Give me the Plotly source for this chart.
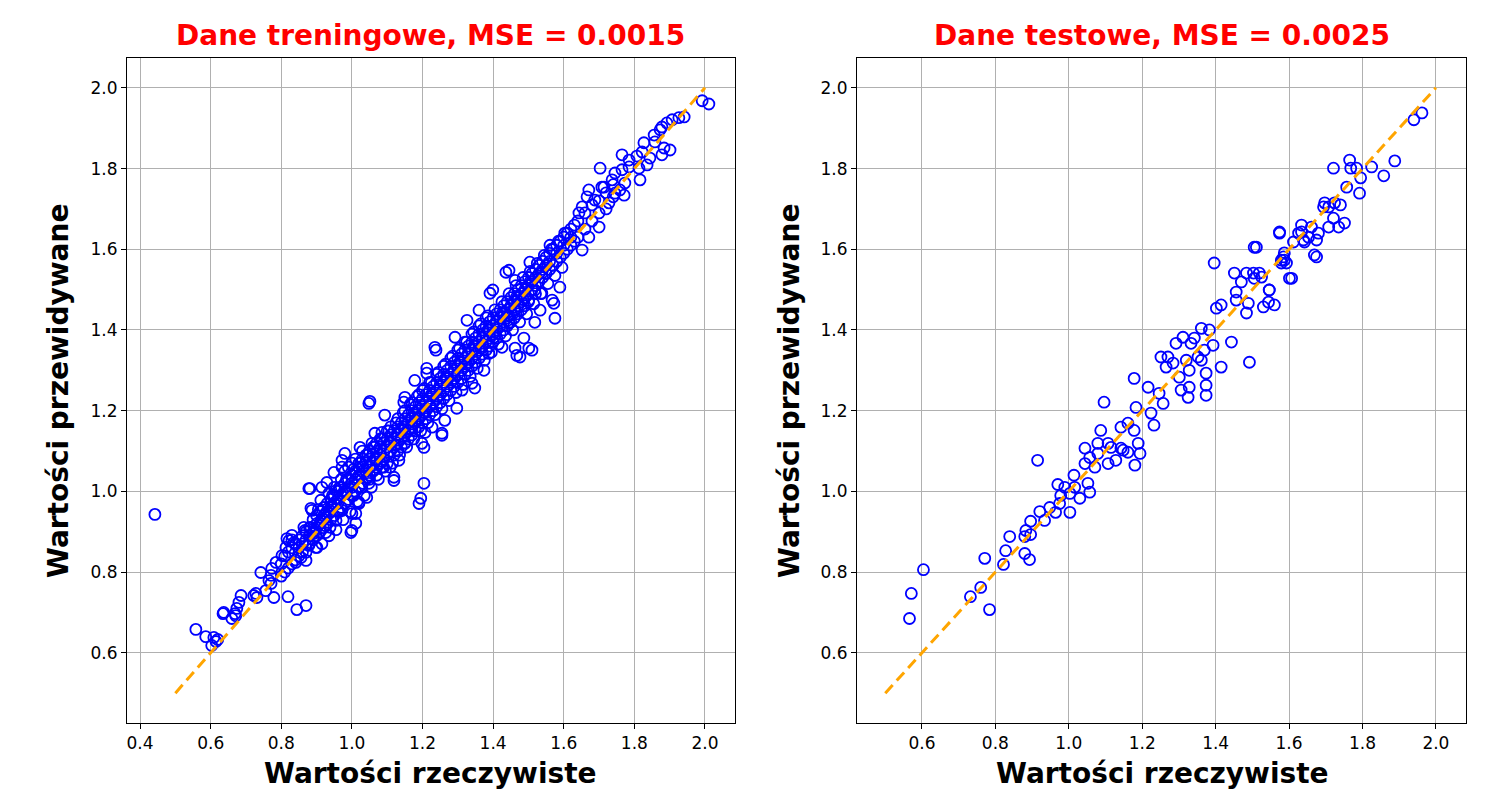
import plotly.graph_objects as go

# ---------------- data ----------------
tick_vals_left_x = [0.4, 0.6, 0.8, 1.0, 1.2, 1.4, 1.6, 1.8, 2.0]
tick_vals_right_x = [0.6, 0.8, 1.0, 1.2, 1.4, 1.6, 1.8, 2.0]
tick_vals_y = [0.6, 0.8, 1.0, 1.2, 1.4, 1.6, 1.8, 2.0]
ideal_line = [0.5, 2.0]

train_title = "Dane treningowe, MSE = 0.0015"
test_title = "Dane testowe, MSE = 0.0025"
x_label = "Wartości rzeczywiste"
y_label = "Wartości przewidywane"

# training set: scattered / edge points
train_actual_edges = [
    0.442, 0.558, 0.586, 0.609, 0.615, 0.603, 0.620, 0.635, 0.637, 0.660,
    0.669, 0.674, 0.680, 0.686, 0.671, 0.722, 0.731, 0.728, 0.742, 0.756,
    0.765, 0.771, 0.779, 0.773, 0.785, 0.771, 0.819, 0.844, 0.870, 0.802,
    0.813, 0.816, 0.830, 0.822, 0.836, 0.841, 0.856, 0.870, 0.870, 0.878,
    0.892, 0.898, 0.884, 0.864, 0.884, 0.878, 0.912, 0.926, 0.935, 0.943,
    0.955, 0.972, 0.997, 1.011, 1.011, 1.020, 0.935, 0.912, 0.955, 0.983,
    1.028, 1.042, 1.119, 1.190, 1.195, 1.204, 1.051, 1.000, 1.048, 1.147,
    1.093, 1.204, 0.881, 0.949, 0.980, 0.972, 0.972, 1.023, 1.057, 1.065,
    1.085, 1.119, 1.108, 1.000, 1.020, 0.901, 0.929, 0.915, 0.887, 0.943,
    0.938, 0.867, 1.048, 1.085, 1.133, 1.150, 1.170, 1.178, 1.235, 1.255,
    1.297, 1.348, 1.374, 1.476, 1.510, 1.487, 1.462, 1.425, 1.518, 1.575,
    1.572, 1.533, 1.391, 1.360, 1.326, 1.292, 1.212, 1.178, 1.150, 1.170,
    1.198, 1.227, 1.263, 1.312, 1.340, 1.388, 1.402, 1.445, 1.462, 1.501,
    1.538, 1.445, 1.462, 1.504, 1.567, 1.589, 1.561, 1.603, 1.652, 1.671,
    1.652, 1.666, 1.708, 1.771, 1.700, 1.643, 1.538, 1.518, 2.011, 1.992,
    1.941, 1.926, 1.907, 1.892, 1.878, 1.873, 1.856, 1.858, 1.884, 1.901,
    1.878, 1.827, 1.822, 1.844, 1.836, 1.765, 1.785, 1.703, 1.745, 1.765,
    1.785, 1.813, 1.816, 1.714, 1.737, 1.773, 1.759, 1.745, 1.671, 1.688,
    1.728, 1.399, 1.436, 1.467, 1.501, 1.207, 1.807, 1.238, 1.212, 1.255,
]
train_pred_edges = [
    0.943, 0.658, 0.640, 0.638, 0.628, 0.618, 0.633, 0.697, 0.700, 0.685,
    0.697, 0.710, 0.725, 0.742, 0.692, 0.742, 0.737, 0.747, 0.799, 0.754,
    0.779, 0.792, 0.737, 0.809, 0.824, 0.772, 0.739, 0.707, 0.717, 0.841,
    0.861, 0.883, 0.891, 0.878, 0.873, 0.824, 0.836, 0.849, 0.829, 0.866,
    0.896, 0.861, 0.911, 0.911, 0.958, 1.007, 0.928, 0.898, 0.945, 0.965,
    0.928, 0.953, 0.898, 0.945, 0.921, 0.970, 0.995, 0.978, 1.002, 0.995,
    1.010, 0.985, 1.027, 0.970, 0.983, 1.020, 1.223, 0.903, 1.218, 1.221,
    1.189, 1.109, 1.007, 1.047, 1.094, 1.077, 1.060, 1.109, 1.119, 1.144,
    1.146, 1.035, 1.060, 0.945, 0.973, 0.861, 1.022, 1.010, 0.953, 0.960,
    0.911, 0.903, 1.020, 1.060, 1.077, 1.119, 1.151, 1.176, 1.357, 1.139,
    1.206, 1.256, 1.300, 1.333, 1.350, 1.380, 1.355, 1.357, 1.419, 1.429,
    1.466, 1.449, 1.491, 1.449, 1.424, 1.382, 1.305, 1.275, 1.233, 1.184,
    1.119, 1.159, 1.176, 1.251, 1.268, 1.342, 1.382, 1.417, 1.449, 1.474,
    1.491, 1.548, 1.523, 1.568, 1.474, 1.506, 1.610, 1.640, 1.598, 1.630,
    1.705, 1.730, 1.754, 1.734, 1.655, 1.690, 1.541, 1.499, 1.960, 1.968,
    1.928, 1.926, 1.921, 1.913, 1.903, 1.896, 1.883, 1.866, 1.851, 1.846,
    1.834, 1.864, 1.841, 1.826, 1.809, 1.834, 1.821, 1.801, 1.789, 1.797,
    1.804, 1.801, 1.772, 1.754, 1.772, 1.764, 1.747, 1.739, 1.747, 1.722,
    1.715, 1.499, 1.543, 1.337, 1.355, 1.146, 1.831, 1.350, 1.293, 1.144,
]

# training set: dense core of the band
train_actual_band = [
    0.80, 0.80, 0.81, 0.81, 0.82, 0.82, 0.83, 0.83, 0.83, 0.84, 0.84, 0.85, 0.85, 0.85,
    0.86, 0.86, 0.86, 0.87, 0.87, 0.88, 0.88, 0.88, 0.89, 0.89, 0.89,
    0.90, 0.90, 0.90, 0.90, 0.91, 0.91, 0.91, 0.92, 0.92, 0.92, 0.92,
    0.93, 0.93, 0.93, 0.94, 0.94, 0.94, 0.94, 0.95, 0.95, 0.95, 0.95,
    0.96, 0.96, 0.96, 0.96, 0.97, 0.97, 0.97, 0.97, 0.98, 0.98, 0.98, 0.98,
    0.99, 0.99, 0.99, 0.99, 1.00, 1.00, 1.00, 1.00, 1.00, 1.01, 1.01, 1.01, 1.01,
    1.02, 1.02, 1.02, 1.02, 1.03, 1.03, 1.03, 1.03, 1.03, 1.04, 1.04, 1.04, 1.04,
    1.05, 1.05, 1.05, 1.05, 1.05, 1.06, 1.06, 1.06, 1.06, 1.07, 1.07, 1.07, 1.07, 1.07,
    1.08, 1.08, 1.08, 1.08, 1.09, 1.09, 1.09, 1.09, 1.10, 1.10, 1.10, 1.10, 1.10,
    1.11, 1.11, 1.11, 1.11, 1.12, 1.12, 1.12, 1.12, 1.13, 1.13, 1.13, 1.13, 1.13,
    1.14, 1.14, 1.14, 1.14, 1.15, 1.15, 1.15, 1.15, 1.15, 1.16, 1.16, 1.16, 1.16,
    1.17, 1.17, 1.17, 1.17, 1.17, 1.18, 1.18, 1.18, 1.18, 1.19, 1.19, 1.19, 1.19, 1.19,
    1.20, 1.20, 1.20, 1.20, 1.20, 1.21, 1.21, 1.21, 1.21, 1.22, 1.22, 1.22, 1.22, 1.22,
    1.23, 1.23, 1.23, 1.23, 1.24, 1.24, 1.24, 1.24, 1.24, 1.25, 1.25, 1.25, 1.25,
    1.26, 1.26, 1.26, 1.26, 1.26, 1.27, 1.27, 1.27, 1.27, 1.28, 1.28, 1.28, 1.28, 1.28,
    1.29, 1.29, 1.29, 1.29, 1.30, 1.30, 1.30, 1.30, 1.30, 1.31, 1.31, 1.31, 1.31,
    1.32, 1.32, 1.32, 1.32, 1.32, 1.33, 1.33, 1.33, 1.33, 1.34, 1.34, 1.34, 1.34, 1.34,
    1.35, 1.35, 1.35, 1.35, 1.36, 1.36, 1.36, 1.36, 1.36, 1.37, 1.37, 1.37, 1.37,
    1.38, 1.38, 1.38, 1.38, 1.38, 1.39, 1.39, 1.39, 1.39, 1.40, 1.40, 1.40, 1.40,
    1.41, 1.41, 1.41, 1.41, 1.42, 1.42, 1.42, 1.42, 1.43, 1.43, 1.43, 1.43,
    1.44, 1.44, 1.44, 1.44, 1.45, 1.45, 1.45, 1.45, 1.46, 1.46, 1.46, 1.46,
    1.47, 1.47, 1.47, 1.47, 1.48, 1.48, 1.48, 1.48, 1.49, 1.49, 1.49, 1.49,
    1.50, 1.50, 1.50, 1.50, 1.51, 1.51, 1.51, 1.52, 1.52, 1.52, 1.52,
    1.53, 1.53, 1.53, 1.54, 1.54, 1.54, 1.55, 1.55, 1.55, 1.56, 1.56, 1.56,
    1.57, 1.57, 1.58, 1.58, 1.58, 1.59, 1.59, 1.60, 1.60, 1.60, 1.61, 1.61,
    1.62, 1.62, 1.62, 1.63, 1.63, 1.64, 1.64, 1.66, 1.66, 1.68, 1.68, 1.70, 1.70, 1.72, 1.72, 1.74, 1.74,
]
train_pred_band = [
    0.82, 0.79, 0.84, 0.80, 0.85, 0.81, 0.86, 0.82, 0.88, 0.87, 0.83, 0.88, 0.86, 0.84,
    0.89, 0.85, 0.87, 0.90, 0.88, 0.91, 0.87, 0.89, 0.93, 0.88, 0.90,
    0.92, 0.89, 0.94, 0.91, 0.95, 0.90, 0.92, 0.94, 0.91, 0.96, 0.93,
    0.97, 0.92, 0.95, 0.95, 0.98, 0.93, 0.96, 0.99, 0.94, 0.97, 1.01,
    0.98, 0.95, 1.00, 0.97, 1.01, 0.96, 0.99, 1.03, 1.00, 0.97, 1.02, 1.05,
    1.03, 0.98, 1.01, 1.06, 1.02, 0.99, 1.04, 1.07, 1.01, 1.05, 1.00, 1.03, 1.08,
    1.04, 1.01, 1.06, 1.07, 1.06, 1.02, 1.08, 1.05, 1.10, 1.07, 1.03, 1.05, 1.09,
    1.08, 1.04, 1.06, 1.10, 1.03, 1.09, 1.05, 1.07, 1.11, 1.10, 1.06, 1.08, 1.12, 1.04,
    1.11, 1.07, 1.09, 1.13, 1.12, 1.08, 1.10, 1.06, 1.13, 1.09, 1.11, 1.15, 1.07,
    1.14, 1.10, 1.12, 1.16, 1.15, 1.11, 1.13, 1.09, 1.16, 1.12, 1.14, 1.18, 1.10,
    1.17, 1.13, 1.15, 1.11, 1.18, 1.14, 1.16, 1.20, 1.12, 1.19, 1.15, 1.17, 1.13,
    1.20, 1.16, 1.18, 1.22, 1.14, 1.21, 1.17, 1.19, 1.15, 1.22, 1.18, 1.20, 1.24, 1.16,
    1.23, 1.19, 1.21, 1.17, 1.25, 1.24, 1.20, 1.22, 1.18, 1.25, 1.21, 1.23, 1.27, 1.19,
    1.26, 1.22, 1.24, 1.20, 1.27, 1.23, 1.25, 1.29, 1.21, 1.28, 1.24, 1.26, 1.22,
    1.29, 1.25, 1.27, 1.31, 1.23, 1.30, 1.26, 1.28, 1.24, 1.31, 1.27, 1.29, 1.33, 1.25,
    1.32, 1.28, 1.30, 1.26, 1.33, 1.29, 1.31, 1.35, 1.27, 1.34, 1.30, 1.32, 1.28,
    1.35, 1.31, 1.33, 1.37, 1.29, 1.36, 1.32, 1.34, 1.30, 1.37, 1.33, 1.35, 1.39, 1.31,
    1.38, 1.34, 1.36, 1.32, 1.39, 1.35, 1.37, 1.41, 1.33, 1.40, 1.36, 1.38, 1.34,
    1.41, 1.37, 1.39, 1.43, 1.35, 1.42, 1.38, 1.40, 1.36, 1.43, 1.39, 1.41, 1.37,
    1.44, 1.40, 1.42, 1.38, 1.45, 1.41, 1.43, 1.39, 1.46, 1.42, 1.44, 1.40,
    1.47, 1.43, 1.45, 1.41, 1.48, 1.44, 1.46, 1.42, 1.49, 1.45, 1.47, 1.43,
    1.50, 1.46, 1.48, 1.44, 1.51, 1.47, 1.49, 1.45, 1.52, 1.48, 1.50, 1.46,
    1.53, 1.49, 1.51, 1.47, 1.54, 1.50, 1.52, 1.55, 1.51, 1.53, 1.49,
    1.56, 1.52, 1.54, 1.57, 1.53, 1.55, 1.58, 1.54, 1.56, 1.59, 1.55, 1.57,
    1.60, 1.56, 1.61, 1.57, 1.59, 1.62, 1.58, 1.63, 1.59, 1.61, 1.64, 1.60,
    1.65, 1.61, 1.63, 1.66, 1.62, 1.67, 1.63, 1.69, 1.65, 1.71, 1.67, 1.72, 1.69, 1.74, 1.70, 1.76, 1.73,
]

# training set: wider fringe of the band
train_actual_fringe = [
    0.905, 0.915, 0.925, 0.935, 0.945, 0.955, 0.965, 0.975, 0.985, 0.995,
    1.005, 1.015, 1.025, 1.035, 1.045, 1.055, 1.065, 1.075, 1.085, 1.095,
    1.105, 1.115, 1.125, 1.135, 1.145, 1.155, 1.165, 1.175, 1.185, 1.195,
    1.205, 1.215, 1.225, 1.235, 1.245, 1.255, 1.265, 1.275, 1.285, 1.295,
    1.305, 1.315, 1.325, 1.335, 1.345, 1.355, 1.365, 1.375, 1.385, 1.395,
    1.405, 1.415, 1.425, 1.435, 1.445, 1.455, 1.465, 1.475, 1.485, 1.495,
    1.505, 1.515, 1.525, 1.535, 1.545, 1.555, 1.565, 1.575, 1.585, 1.595,
    0.925, 0.945, 0.965, 0.985, 1.005, 1.025, 1.045, 1.065, 1.085, 1.105,
    1.125, 1.145, 1.165, 1.185, 1.205, 1.225, 1.245, 1.265, 1.285, 1.305,
    1.325, 1.345, 1.365, 1.385, 1.405, 1.425, 1.445, 1.465, 1.485, 1.505,
]
train_pred_fringe = [
    0.955, 0.870, 0.945, 0.890, 0.990, 0.905, 1.010, 0.930, 1.030, 0.950,
    1.055, 0.975, 1.070, 0.990, 1.090, 1.010, 1.110, 1.030, 1.130, 1.050,
    1.150, 1.070, 1.170, 1.090, 1.195, 1.110, 1.215, 1.130, 1.235, 1.150,
    1.255, 1.170, 1.270, 1.190, 1.295, 1.205, 1.315, 1.225, 1.335, 1.245,
    1.355, 1.265, 1.370, 1.285, 1.395, 1.305, 1.415, 1.325, 1.435, 1.345,
    1.450, 1.365, 1.470, 1.385, 1.490, 1.400, 1.510, 1.420, 1.530, 1.440,
    1.545, 1.465, 1.565, 1.490, 1.585, 1.515, 1.600, 1.535, 1.620, 1.555,
    0.915, 0.960, 0.950, 1.000, 0.990, 1.040, 1.035, 1.080, 1.075, 1.120,
    1.115, 1.160, 1.155, 1.200, 1.195, 1.240, 1.235, 1.280, 1.275, 1.320,
    1.315, 1.360, 1.355, 1.400, 1.395, 1.440, 1.435, 1.480, 1.475, 1.520,
]

# test set
test_actual = [
    0.604, 0.571, 0.566, 0.732, 0.760, 0.784, 0.771, 0.822, 0.828, 0.839,
    0.880, 0.893, 0.880, 0.896, 0.883, 0.896, 0.915, 0.921, 0.934, 0.948,
    0.964, 0.970, 0.978, 0.975, 0.989, 1.003, 1.003, 1.014, 1.016, 1.030,
    1.052, 1.057, 1.044, 1.057, 1.071, 1.044, 1.079, 1.107, 1.115, 1.142,
    1.161, 1.180, 1.194, 1.128, 1.079, 1.096, 1.178, 1.087, 1.107, 1.142,
    1.161, 1.178, 1.189, 1.148, 1.183, 1.216, 1.224, 1.232, 1.246, 1.257,
    1.251, 1.270, 1.265, 1.284, 1.292, 1.311, 1.301, 1.306, 1.325, 1.328,
    1.333, 1.342, 1.361, 1.383, 1.369, 1.352, 1.361, 1.328, 1.320, 1.374,
    1.374, 1.374, 1.393, 1.415, 1.396, 1.402, 1.415, 1.443, 1.451, 1.456,
    1.456, 1.470, 1.484, 1.489, 1.492, 1.503, 1.505, 1.505, 1.519, 1.530,
    1.544, 1.546, 1.560, 1.574, 1.579, 1.593, 1.585, 1.607, 1.639, 1.669,
    1.653, 1.626, 1.484, 1.962, 1.940, 1.888, 1.858, 1.825, 1.795, 1.792,
    1.765, 1.768, 1.784, 1.721, 1.757, 1.740, 1.724, 1.697, 1.708, 1.694,
    1.751, 1.735, 1.708, 1.721, 1.680, 1.675, 1.675, 1.661, 1.634, 1.634,
    1.642, 1.574, 1.612, 1.587, 1.587, 1.579, 1.601, 1.511, 1.546, 1.525,
]
test_pred = [
    0.806, 0.747, 0.685, 0.739, 0.762, 0.707, 0.834, 0.819, 0.853, 0.888,
    0.846, 0.831, 0.888, 0.893, 0.903, 0.926, 1.077, 0.950, 0.928, 0.960,
    0.948, 1.017, 0.990, 0.970, 1.010, 0.948, 0.995, 1.040, 1.010, 0.983,
    1.020, 0.998, 1.069, 1.084, 1.060, 1.107, 1.094, 1.069, 1.109, 1.107,
    1.097, 1.065, 1.094, 1.077, 1.119, 1.221, 1.280, 1.151, 1.119, 1.159,
    1.169, 1.151, 1.119, 1.102, 1.208, 1.258, 1.194, 1.164, 1.243, 1.218,
    1.333, 1.333, 1.308, 1.318, 1.367, 1.382, 1.283, 1.251, 1.233, 1.258,
    1.367, 1.380, 1.404, 1.400, 1.350, 1.333, 1.325, 1.300, 1.325, 1.293,
    1.263, 1.238, 1.362, 1.308, 1.566, 1.454, 1.462, 1.370, 1.541, 1.494,
    1.474, 1.519, 1.541, 1.466, 1.320, 1.541, 1.605, 1.528, 1.541, 1.457,
    1.469, 1.499, 1.462, 1.640, 1.573, 1.566, 1.581, 1.528, 1.623, 1.586,
    1.630, 1.640, 1.442, 1.938, 1.921, 1.819, 1.782, 1.804, 1.777, 1.739,
    1.821, 1.801, 1.801, 1.801, 1.754, 1.710, 1.715, 1.715, 1.705, 1.705,
    1.665, 1.655, 1.655, 1.677, 1.640, 1.623, 1.581, 1.655, 1.660, 1.643,
    1.618, 1.643, 1.618, 1.591, 1.573, 1.566, 1.528, 1.605, 1.499, 1.531,
]

assert len(train_actual_edges) == len(train_pred_edges)
assert len(train_actual_band) == len(train_pred_band)
assert len(train_actual_fringe) == len(train_pred_fringe)
assert len(test_actual) == len(test_pred)

train_actual = train_actual_edges + train_actual_band + train_actual_fringe
train_pred = train_pred_edges + train_pred_band + train_pred_fringe

# ---------------- figure ----------------
W, H = 1494, 793
FONT = "DejaVu Sans"

marker = dict(symbol="circle-open", size=11, color="blue", line=dict(width=1.8, color="blue"))
line_style = dict(color="orange", width=3, dash="11px,6px")

fig = go.Figure()
fig.add_trace(go.Scatter(x=train_actual, y=train_pred, mode="markers", marker=marker,
                         xaxis="x", yaxis="y", showlegend=False))
fig.add_trace(go.Scatter(x=ideal_line, y=ideal_line, mode="lines", line=line_style,
                         xaxis="x", yaxis="y", showlegend=False))
fig.add_trace(go.Scatter(x=test_actual, y=test_pred, mode="markers", marker=marker,
                         xaxis="x2", yaxis="y2", showlegend=False))
fig.add_trace(go.Scatter(x=ideal_line, y=ideal_line, mode="lines", line=line_style,
                         xaxis="x2", yaxis="y2", showlegend=False))


def px_x(p):
    return p / W


def px_y(p):
    return 1 - p / H


axis_common = dict(
    showgrid=True, gridcolor="#b0b0b0", gridwidth=1,
    showline=True, linecolor="black", linewidth=1, mirror=True,
    ticks="outside", ticklen=5, tickwidth=1, tickcolor="black",
    zeroline=False, tickfont=dict(family=FONT, size=17, color="black"),
)

y_dom = [px_y(723), px_y(58)]

fig.update_layout(
    width=W, height=H,
    margin=dict(l=0, r=0, t=0, b=0),
    paper_bgcolor="white", plot_bgcolor="white",
    showlegend=False,
    xaxis=dict(domain=[px_x(127), px_x(735)], range=[0.363, 2.085], anchor="y",
               tickvals=tick_vals_left_x, ticktext=[f"{v:.1f}" for v in tick_vals_left_x],
               **axis_common),
    yaxis=dict(domain=y_dom, range=[0.426, 2.074], anchor="x",
               tickvals=tick_vals_y, ticktext=[f"{v:.1f}" for v in tick_vals_y],
               **axis_common),
    xaxis2=dict(domain=[px_x(857), px_x(1466)], range=[0.423, 2.082], anchor="y2",
                tickvals=tick_vals_right_x, ticktext=[f"{v:.1f}" for v in tick_vals_right_x],
                **axis_common),
    yaxis2=dict(domain=y_dom, range=[0.426, 2.074], anchor="x2",
                tickvals=tick_vals_y, ticktext=[f"{v:.1f}" for v in tick_vals_y],
                **axis_common),
)

title_font = dict(family=FONT, size=28, color="red")
label_font = dict(family=FONT, size=28, color="black")

annotations = [
    dict(text=f"<b>{train_title}</b>", x=px_x(431), y=px_y(36), font=title_font),
    dict(text=f"<b>{test_title}</b>", x=px_x(1162), y=px_y(36), font=title_font),
    dict(text=f"<b>{x_label}</b>", x=px_x(431), y=px_y(792), font=label_font, yanchor="bottom"),
    dict(text=f"<b>{x_label}</b>", x=px_x(1162), y=px_y(792), font=label_font, yanchor="bottom"),
    dict(text=f"<b>{y_label}</b>", x=px_x(58), y=px_y(391), font=label_font, textangle=-90),
    dict(text=f"<b>{y_label}</b>", x=px_x(789), y=px_y(391), font=label_font, textangle=-90),
]
for a in annotations:
    a.setdefault("yanchor", "middle")
    a.update(xref="paper", yref="paper", showarrow=False, xanchor="center")
fig.update_layout(annotations=annotations)

fig.write_html("out.html")
